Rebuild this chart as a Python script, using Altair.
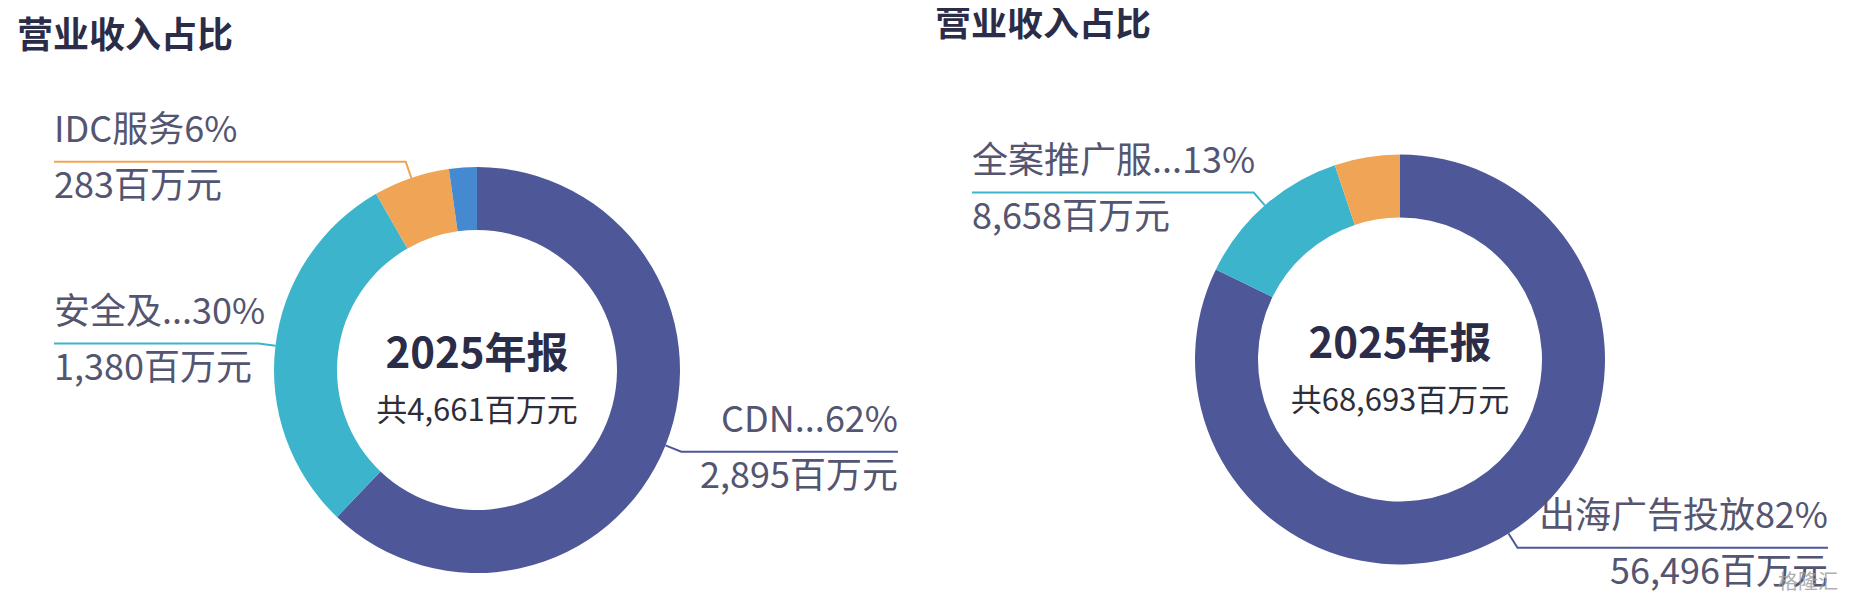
import math
import altair as alt
import pandas as pd

# ---------------- data ----------------
TITLE = "营业收入占比"
PERIOD = "2025年报"
UNIT = "百万元"

left_names = ["CDN...", "安全及...", "IDC服务", "其他"]
left_values = [2895, 1380, 283, 103]
left_colors = ["#4E5899", "#3CB4CB", "#F0A456", "#4589D0"]
left_show = [True, True, True, False]

right_names = ["出海广告投放", "全案推广服...", "其他"]
right_values = [56496, 8658, 3539]
right_colors = ["#4E5899", "#3CB4CB", "#F0A456"]
right_show = [True, True, False]

watermark = "格隆汇"

# ---------------- layout (page pixels) ----------------
OFF = 8
FONT = "Noto Sans CJK SC"
LABEL_COLOR = "#545570"
DARK = "#2B2C48"

left_layout = dict(cx=477, cy=370, r=203, r2=140, len=17, xl=54, xr=898,
                   title_x=17, title_y=37)
right_layout = dict(cx=1400, cy=359.5, r=205, r2=142, len=17, xl=972, xr=1828,
                    title_x=935, title_y=25)


def donut_layers(names, values, colors, show, lay, key):
    total = sum(values)
    df = pd.DataFrame({"name": names, "value": values, "color": colors,
                       "idx": list(range(len(names)))})
    arc = alt.Chart(df).mark_arc(radius=lay["r"], radius2=lay["r2"]).encode(
        theta=alt.Theta("value:Q", stack=True),
        order=alt.Order("idx:Q"),
        color=alt.Color("color:N", scale=None),
        x=alt.value(lay["cx"] - OFF),
        y=alt.value(lay["cy"] - OFF),
    )

    line_rows, left_txt, right_txt = [], [], []
    cum = 0
    for i, (n, v, c, s) in enumerate(zip(names, values, colors, show)):
        mid = (cum + v / 2) / total
        cum += v
        if not s:
            continue
        a = 2 * math.pi * mid
        sn, cs = math.sin(a), math.cos(a)
        ex, ey = lay["cx"] + lay["r"] * sn, lay["cy"] - lay["r"] * cs
        bx, by = lay["cx"] + (lay["r"] + lay["len"]) * sn, lay["cy"] - (lay["r"] + lay["len"]) * cs
        endx = lay["xl"] if sn < 0 else lay["xr"]
        lid = f"{key}{i}"
        for p, (px, py) in enumerate([(ex, ey), (bx, by), (endx, by)]):
            line_rows.append({"lid": lid, "pt": p, "px": px - OFF, "py": py - OFF, "color": c})
        pct = round(v / total * 100)
        rows = [
            {"tx": endx - OFF, "ty": by - 31 - OFF, "text": f"{n}{pct}%"},
            {"tx": endx - OFF, "ty": by + 25 - OFF, "text": f"{v:,}{UNIT}"},
        ]
        (left_txt if sn < 0 else right_txt).extend(rows)

    ldf = pd.DataFrame(line_rows)
    lines = alt.Chart(ldf).mark_line(strokeWidth=2).encode(
        x=alt.X("px:Q", scale=None, axis=None),
        y=alt.Y("py:Q", scale=None, axis=None),
        detail="lid:N",
        order="pt:Q",
        color=alt.Color("color:N", scale=None),
    )
    layers = [arc, lines]
    for rows, al in ((left_txt, "left"), (right_txt, "right")):
        if rows:
            layers.append(alt.Chart(pd.DataFrame(rows)).mark_text(
                align=al, baseline="middle", font=FONT, fontSize=36, color=LABEL_COLOR
            ).encode(x=alt.X("tx:Q", scale=None, axis=None),
                     y=alt.Y("ty:Q", scale=None, axis=None), text="text:N"))

    cdf = pd.DataFrame({"tx": [lay["cx"] - OFF], "ty1": [lay["cy"] - 15 - OFF],
                        "ty2": [lay["cy"] + 42 - OFF],
                        "t1": [PERIOD], "t2": [f"共{total:,}{UNIT}"],
                        "titx": [lay["title_x"] - OFF], "tity": [lay["title_y"] - OFF],
                        "tit": [TITLE]})
    layers.append(alt.Chart(cdf).mark_text(align="center", baseline="middle", font=FONT,
                                           fontSize=42, fontWeight="bold", color=DARK).encode(
        x=alt.X("tx:Q", scale=None, axis=None), y=alt.Y("ty1:Q", scale=None, axis=None), text="t1:N"))
    layers.append(alt.Chart(cdf).mark_text(align="center", baseline="middle", font=FONT,
                                           fontSize=31, color="#2E2E3A").encode(
        x=alt.X("tx:Q", scale=None, axis=None), y=alt.Y("ty2:Q", scale=None, axis=None), text="t2:N"))
    layers.append(alt.Chart(cdf).mark_text(align="left", baseline="middle", font=FONT,
                                           fontSize=36, fontWeight="bold", color=DARK).encode(
        x=alt.X("titx:Q", scale=None, axis=None), y=alt.Y("tity:Q", scale=None, axis=None), text="tit:N"))
    return layers


layers = donut_layers(left_names, left_values, left_colors, left_show, left_layout, "L")
layers += donut_layers(right_names, right_values, right_colors, right_show, right_layout, "R")

wdf = pd.DataFrame({"tx": [1838 - OFF], "ty": [583 - OFF], "t": [watermark]})
layers.append(alt.Chart(wdf).mark_text(align="right", baseline="middle", font=FONT, fontSize=20,
                                       color="#9A9AA0", opacity=0.8).encode(
    x=alt.X("tx:Q", scale=None, axis=None), y=alt.Y("ty:Q", scale=None, axis=None), text="t:N"))

chart = alt.layer(*layers).resolve_scale(theta="independent").properties(
    width=1833, height=587, padding=0, autosize="none", background="white"
).configure_view(stroke=None)

chart.save("out.html", embed_options={"renderer": "svg", "actions": False})
